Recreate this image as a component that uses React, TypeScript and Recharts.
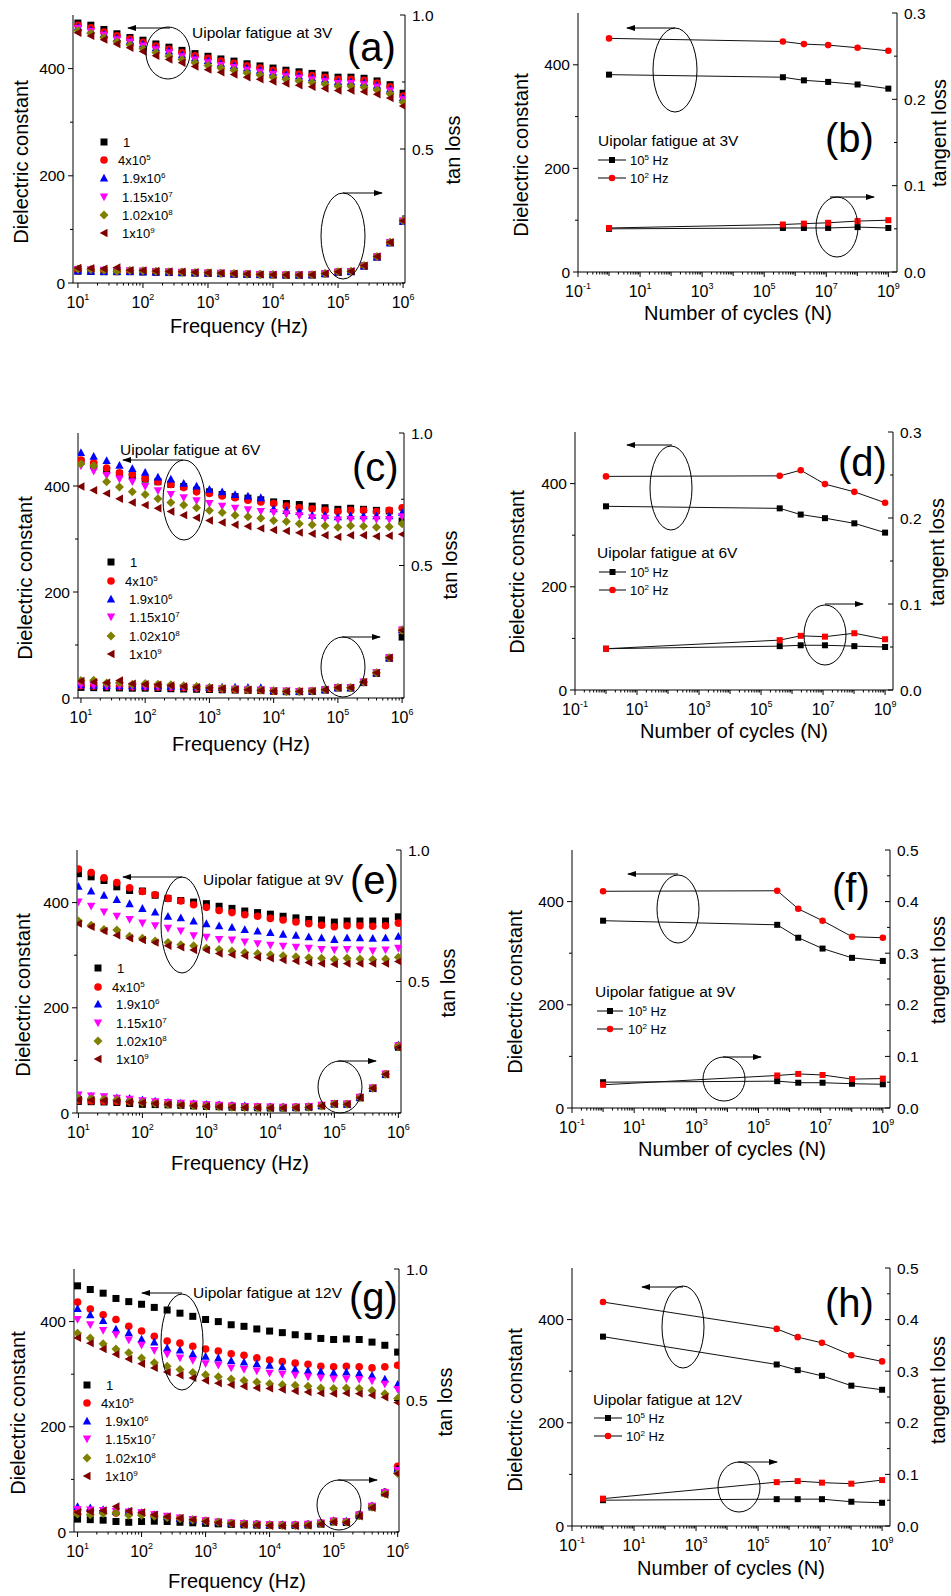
import React from 'react';
import { ScatterChart, Scatter, XAxis, YAxis } from 'recharts';

const FONT = '"Liberation Sans", Arial, Helvetica, sans-serif';

// frequency sweep, 5 points per decade
const freqHz = [10, 15.8, 25.1, 39.8, 63.1, 100, 158, 251, 398, 631, 1000, 1580, 2510, 3980, 6310,
  1e4, 1.58e4, 2.51e4, 3.98e4, 6.31e4, 1e5, 1.58e5, 2.51e5, 3.98e5, 6.31e5, 1e6];
// fatigue cycles
const cycleCounts = [1, 4e5, 1.9e6, 1.15e7, 1.02e8, 1e9];

const seriesNames = [['1', ''], ['4x10', '5'], ['1.9x10', '6'], ['1.15x10', '7'], ['1.02x10', '8'], ['1x10', '9']];
const seriesColors = ['#000000', '#ff0000', '#0000ff', '#ff00ff', '#808000', '#800000'];
const seriesShapes = ['square', 'circle', 'up', 'down', 'diamond', 'left'];

// (a) 3V dielectric constant / tan loss, one row per fatigue state
const epsA = [
  [485, 481, 473, 465, 458, 453, 446, 440, 434, 428, 423, 418, 414, 409, 405, 401, 397, 394, 391, 388, 384, 384, 382, 377, 370, 354],
  [481, 476, 468, 461, 455, 449, 442, 436, 430, 424, 419, 414, 410, 405, 401, 397, 393, 390, 387, 384, 380, 380, 378, 373, 366, 349],
  [478, 472, 465, 457, 452, 446, 439, 433, 426, 420, 415, 410, 406, 401, 397, 393, 389, 386, 383, 380, 376, 376, 374, 369, 362, 346],
  [475, 469, 462, 454, 449, 442, 435, 429, 422, 416, 411, 406, 402, 397, 393, 389, 385, 382, 379, 376, 372, 372, 370, 365, 358, 342],
  [471, 466, 458, 450, 444, 437, 430, 423, 417, 411, 406, 401, 397, 392, 388, 384, 380, 377, 374, 371, 367, 367, 365, 360, 353, 337],
  [467, 461, 454, 446, 439, 432, 424, 417, 411, 404, 398, 393, 389, 384, 380, 376, 372, 369, 366, 363, 359, 359, 357, 352, 345, 330],
];
const tanA = [
  [0.044, 0.043, 0.042, 0.042, 0.042, 0.041, 0.040, 0.039, 0.038, 0.037, 0.036, 0.035, 0.033, 0.032, 0.031, 0.030, 0.029, 0.029, 0.030, 0.034, 0.040, 0.042, 0.063, 0.097, 0.150, 0.230],
  [0.048, 0.047, 0.046, 0.045, 0.044, 0.043, 0.042, 0.041, 0.040, 0.038, 0.037, 0.036, 0.034, 0.033, 0.032, 0.031, 0.030, 0.030, 0.031, 0.035, 0.041, 0.043, 0.064, 0.098, 0.151, 0.231],
  [0.046, 0.044, 0.043, 0.043, 0.043, 0.042, 0.041, 0.040, 0.039, 0.038, 0.037, 0.036, 0.034, 0.033, 0.032, 0.032, 0.031, 0.030, 0.031, 0.035, 0.041, 0.043, 0.063, 0.097, 0.150, 0.230],
  [0.050, 0.049, 0.048, 0.047, 0.046, 0.045, 0.043, 0.042, 0.040, 0.039, 0.037, 0.036, 0.034, 0.033, 0.032, 0.031, 0.030, 0.030, 0.031, 0.035, 0.041, 0.043, 0.064, 0.098, 0.151, 0.231],
  [0.052, 0.050, 0.048, 0.044, 0.047, 0.046, 0.044, 0.042, 0.041, 0.039, 0.038, 0.036, 0.035, 0.033, 0.032, 0.031, 0.030, 0.030, 0.031, 0.035, 0.042, 0.044, 0.065, 0.099, 0.152, 0.232],
  [0.056, 0.055, 0.053, 0.058, 0.048, 0.047, 0.045, 0.043, 0.042, 0.040, 0.038, 0.037, 0.035, 0.034, 0.032, 0.031, 0.030, 0.030, 0.031, 0.035, 0.042, 0.044, 0.065, 0.099, 0.152, 0.232],
];

// (c) 6V
const epsC = [
  [447, 440, 429, 423, 419, 413, 408, 403, 399, 392, 389, 384, 380, 377, 374, 370, 367, 365, 362, 359, 356, 358, 356, 354, 353, 334],
  [449, 444, 434, 425, 422, 414, 408, 403, 397, 389, 386, 381, 378, 373, 370, 367, 362, 359, 357, 354, 352, 354, 354, 352, 354, 359],
  [463, 456, 448, 439, 433, 426, 417, 413, 405, 400, 394, 389, 384, 381, 378, 357, 354, 352, 345, 345, 342, 344, 344, 344, 344, 350],
  [438, 428, 420, 413, 408, 399, 391, 384, 378, 372, 367, 362, 358, 355, 352, 350, 347, 344, 340, 339, 336, 337, 337, 337, 337, 342],
  [442, 438, 408, 398, 389, 384, 376, 369, 364, 359, 354, 350, 345, 342, 339, 335, 333, 329, 327, 325, 322, 325, 324, 322, 323, 329],
  [399, 392, 386, 376, 369, 364, 358, 352, 345, 340, 335, 331, 327, 324, 320, 317, 315, 312, 310, 307, 304, 307, 307, 305, 306, 309],
];
const tanC = [
  [0.040, 0.039, 0.038, 0.038, 0.037, 0.037, 0.036, 0.035, 0.034, 0.033, 0.032, 0.031, 0.030, 0.029, 0.028, 0.025, 0.024, 0.024, 0.025, 0.030, 0.038, 0.038, 0.058, 0.093, 0.150, 0.230],
  [0.046, 0.045, 0.044, 0.043, 0.042, 0.042, 0.041, 0.040, 0.039, 0.038, 0.036, 0.034, 0.032, 0.030, 0.029, 0.026, 0.025, 0.025, 0.026, 0.031, 0.039, 0.039, 0.060, 0.095, 0.152, 0.256],
  [0.050, 0.048, 0.047, 0.046, 0.046, 0.045, 0.045, 0.044, 0.043, 0.042, 0.041, 0.041, 0.041, 0.040, 0.039, 0.028, 0.026, 0.025, 0.026, 0.031, 0.039, 0.039, 0.060, 0.095, 0.152, 0.258],
  [0.048, 0.046, 0.045, 0.046, 0.044, 0.043, 0.042, 0.041, 0.040, 0.038, 0.037, 0.035, 0.033, 0.031, 0.030, 0.027, 0.026, 0.025, 0.026, 0.031, 0.039, 0.039, 0.060, 0.095, 0.152, 0.257],
  [0.066, 0.067, 0.057, 0.058, 0.052, 0.055, 0.052, 0.050, 0.046, 0.043, 0.040, 0.037, 0.034, 0.032, 0.030, 0.027, 0.025, 0.025, 0.026, 0.031, 0.039, 0.039, 0.060, 0.095, 0.152, 0.256],
  [0.064, 0.060, 0.058, 0.066, 0.054, 0.052, 0.050, 0.047, 0.044, 0.041, 0.038, 0.036, 0.033, 0.031, 0.029, 0.026, 0.025, 0.025, 0.026, 0.031, 0.039, 0.039, 0.060, 0.095, 0.152, 0.256],
];

// (e) 9V
const epsE = [
  [455, 449, 442, 430, 423, 422, 414, 408, 404, 401, 398, 393, 389, 384, 381, 378, 374, 371, 368, 367, 363, 365, 365, 365, 365, 373],
  [464, 457, 447, 438, 428, 421, 415, 408, 403, 396, 391, 385, 381, 377, 374, 370, 367, 363, 360, 357, 354, 356, 356, 355, 356, 361],
  [431, 422, 414, 406, 398, 389, 382, 374, 371, 365, 360, 356, 353, 349, 346, 343, 340, 338, 335, 333, 330, 333, 333, 332, 333, 336],
  [401, 393, 382, 374, 368, 361, 356, 351, 346, 337, 334, 330, 329, 325, 322, 319, 317, 315, 313, 311, 310, 311, 310, 308, 310, 313],
  [365, 357, 349, 348, 336, 332, 327, 324, 320, 318, 313, 311, 308, 305, 303, 301, 299, 297, 295, 294, 292, 294, 293, 292, 293, 296],
  [360, 354, 346, 338, 332, 329, 324, 318, 315, 310, 310, 303, 301, 299, 296, 294, 291, 289, 286, 284, 283, 284, 284, 284, 284, 288],
];
const tanE = [
  [0.044, 0.043, 0.042, 0.040, 0.036, 0.033, 0.032, 0.031, 0.029, 0.027, 0.025, 0.024, 0.022, 0.021, 0.020, 0.019, 0.019, 0.020, 0.022, 0.027, 0.034, 0.033, 0.058, 0.093, 0.146, 0.250],
  [0.048, 0.046, 0.045, 0.044, 0.043, 0.041, 0.039, 0.037, 0.035, 0.033, 0.031, 0.029, 0.027, 0.025, 0.024, 0.023, 0.022, 0.023, 0.025, 0.029, 0.035, 0.034, 0.060, 0.095, 0.148, 0.256],
  [0.066, 0.064, 0.060, 0.058, 0.056, 0.050, 0.045, 0.042, 0.038, 0.036, 0.033, 0.031, 0.029, 0.027, 0.025, 0.024, 0.023, 0.023, 0.025, 0.029, 0.035, 0.034, 0.060, 0.095, 0.148, 0.258],
  [0.068, 0.065, 0.062, 0.056, 0.052, 0.047, 0.043, 0.040, 0.037, 0.034, 0.031, 0.029, 0.027, 0.025, 0.024, 0.023, 0.022, 0.023, 0.025, 0.029, 0.035, 0.034, 0.060, 0.095, 0.148, 0.256],
  [0.056, 0.054, 0.052, 0.050, 0.044, 0.040, 0.036, 0.032, 0.030, 0.028, 0.026, 0.024, 0.022, 0.021, 0.020, 0.019, 0.019, 0.020, 0.022, 0.027, 0.034, 0.033, 0.058, 0.094, 0.147, 0.254],
  [0.050, 0.049, 0.048, 0.046, 0.042, 0.039, 0.036, 0.033, 0.030, 0.028, 0.026, 0.024, 0.022, 0.021, 0.020, 0.019, 0.019, 0.020, 0.022, 0.027, 0.034, 0.033, 0.058, 0.094, 0.147, 0.250],
];

// (g) 12V
const epsG = [
  [468, 461, 454, 444, 438, 433, 427, 422, 416, 410, 404, 400, 394, 391, 386, 382, 379, 375, 372, 368, 366, 367, 366, 361, 355, 342],
  [437, 424, 413, 404, 391, 382, 372, 363, 359, 353, 348, 344, 339, 336, 331, 327, 324, 321, 319, 315, 314, 315, 314, 312, 314, 317],
  [425, 413, 402, 386, 379, 367, 361, 350, 346, 339, 334, 331, 326, 323, 320, 317, 314, 310, 307, 305, 303, 304, 302, 298, 291, 281],
  [404, 394, 383, 375, 365, 355, 345, 338, 331, 326, 320, 317, 312, 309, 306, 302, 300, 298, 295, 293, 291, 291, 290, 287, 281, 271],
  [378, 369, 358, 348, 341, 331, 322, 315, 309, 303, 299, 295, 291, 288, 285, 282, 280, 279, 277, 274, 273, 274, 273, 269, 263, 254],
  [369, 359, 348, 338, 329, 320, 312, 304, 298, 293, 288, 283, 280, 277, 274, 273, 271, 268, 266, 264, 263, 264, 263, 260, 256, 246],
];
const tanG = [
  [0.049, 0.047, 0.045, 0.040, 0.037, 0.040, 0.041, 0.040, 0.037, 0.035, 0.033, 0.031, 0.029, 0.027, 0.026, 0.025, 0.025, 0.025, 0.026, 0.030, 0.038, 0.036, 0.062, 0.095, 0.148, 0.235],
  [0.084, 0.082, 0.078, 0.072, 0.074, 0.072, 0.064, 0.058, 0.052, 0.047, 0.044, 0.038, 0.034, 0.032, 0.030, 0.028, 0.027, 0.027, 0.029, 0.034, 0.042, 0.040, 0.066, 0.098, 0.152, 0.250],
  [0.097, 0.092, 0.085, 0.080, 0.078, 0.074, 0.066, 0.058, 0.052, 0.047, 0.043, 0.038, 0.034, 0.032, 0.030, 0.028, 0.028, 0.028, 0.030, 0.035, 0.044, 0.042, 0.066, 0.100, 0.152, 0.240],
  [0.086, 0.084, 0.082, 0.078, 0.076, 0.073, 0.066, 0.060, 0.053, 0.048, 0.043, 0.038, 0.034, 0.032, 0.029, 0.028, 0.027, 0.027, 0.029, 0.034, 0.042, 0.040, 0.065, 0.098, 0.150, 0.235],
  [0.068, 0.066, 0.070, 0.072, 0.064, 0.064, 0.060, 0.055, 0.050, 0.046, 0.041, 0.037, 0.033, 0.030, 0.028, 0.026, 0.025, 0.025, 0.027, 0.032, 0.040, 0.038, 0.062, 0.094, 0.145, 0.222],
  [0.075, 0.078, 0.082, 0.097, 0.080, 0.074, 0.066, 0.058, 0.052, 0.047, 0.040, 0.035, 0.031, 0.028, 0.026, 0.024, 0.023, 0.023, 0.025, 0.030, 0.038, 0.036, 0.060, 0.092, 0.142, 0.222],
];

// cycle plots: dielectric constant and tangent loss at 10^5 Hz and 10^2 Hz
const eps3V_1e5 = [381, 376, 370, 367, 362, 354];
const eps3V_1e2 = [451, 445, 440, 438, 433, 427];
const tan3V_1e5 = [0.050, 0.051, 0.051, 0.051, 0.052, 0.051];
const tan3V_1e2 = [0.051, 0.055, 0.056, 0.057, 0.059, 0.060];

const eps6V_1e5 = [356, 352, 340, 333, 323, 305];
const eps6V_1e2 = [414, 415, 426, 399, 384, 363];
const tan6V_1e5 = [0.048, 0.051, 0.052, 0.052, 0.051, 0.050];
const tan6V_1e2 = [0.048, 0.058, 0.063, 0.062, 0.066, 0.059];

const eps9V_1e5 = [363, 355, 330, 309, 291, 285];
const eps9V_1e2 = [420, 421, 386, 363, 332, 330];
const tan9V_1e5 = [0.050, 0.052, 0.049, 0.049, 0.047, 0.046];
const tan9V_1e2 = [0.045, 0.063, 0.066, 0.064, 0.056, 0.057];

const eps12V_1e5 = [367, 313, 302, 291, 272, 264];
const eps12V_1e2 = [434, 382, 366, 355, 331, 319];
const tan12V_1e5 = [0.050, 0.052, 0.052, 0.052, 0.047, 0.045];
const tan12V_1e2 = [0.053, 0.085, 0.087, 0.084, 0.082, 0.089];

// ticks
const freqMajor = [10, 100, 1000, 1e4, 1e5, 1e6];
const cycleLabelled = [0.1, 10, 1000, 1e5, 1e7, 1e9];
const cycleDecades = [0.1, 1, 10, 100, 1000, 1e4, 1e5, 1e6, 1e7, 1e8, 1e9];
const minorMult = [2, 3, 4, 5, 6, 7, 8, 9];
const epsTicks = [0, 100, 200, 300, 400];
const epsLabelled = [0, 200, 400];
const tanFreqTicks = [0, 0.25, 0.5, 0.75, 1];
const tanFreqLabelled = [0.5, 1];
const tanCycleTicks3 = [0, 0.05, 0.1, 0.15, 0.2, 0.25, 0.3];
const tanCycleTicks5 = [0, 0.05, 0.1, 0.15, 0.2, 0.25, 0.3, 0.35, 0.4, 0.45, 0.5];

const toPts = (xs: number[], ys: number[]) => xs.map((x, i) => ({ x, y: ys[i] }));

function withMinors(decades: number[], dom: number[]) {
  const out: number[] = [...decades];
  decades.forEach((d) => minorMult.forEach((m) => out.push(d * m)));
  return out.filter((v) => v >= dom[0] && v <= dom[1]);
}

function Mark({ cx, cy, kind, color, size }: any) {
  if (cx == null || cy == null) return null;
  const h = size / 2;
  if (kind === 'square') return <rect x={cx - h} y={cy - h} width={size} height={size} fill={color} />;
  if (kind === 'circle') return <circle cx={cx} cy={cy} r={h + 0.3} fill={color} />;
  if (kind === 'up') return <polygon points={`${cx},${cy - h - 0.8} ${cx + h + 0.7},${cy + h} ${cx - h - 0.7},${cy + h}`} fill={color} />;
  if (kind === 'down') return <polygon points={`${cx},${cy + h + 0.8} ${cx + h + 0.7},${cy - h} ${cx - h - 0.7},${cy - h}`} fill={color} />;
  if (kind === 'diamond') return <polygon points={`${cx},${cy - h - 1} ${cx + h + 1},${cy} ${cx},${cy + h + 1} ${cx - h - 1},${cy}`} fill={color} />;
  return <polygon points={`${cx - h - 0.8},${cy} ${cx + h},${cy - h - 0.7} ${cx + h},${cy + h + 0.7}`} fill={color} />;
}

const markShape = (kind: string, color: string, size: number) => (p: any) => (
  <Mark cx={p.cx} cy={p.cy} kind={kind} color={color} size={size} />
);

function XTick(props: any) {
  const { x, y, payload, labelled, side } = props;
  const v = payload.value;
  const lg = Math.log10(v);
  const isDecade = Math.abs(lg - Math.round(lg)) < 1e-9;
  const isLab = labelled.some((l: number) => Math.abs(l - v) / l < 1e-9);
  const len = isLab ? 5 : isDecade ? 4 : 2.5;
  return (
    <g>
      <line x1={x} y1={y} x2={x} y2={y + len} stroke="#000" strokeWidth={1} />
      {side === 'bottom' && isLab && (
        <text x={x} y={y + 25} textAnchor="middle" fontSize={16} fontFamily={FONT} fill="#000">
          10<tspan dy={-8} fontSize={9} fontFamily={FONT}>{Math.round(lg)}</tspan>
        </text>
      )}
    </g>
  );
}

function YLeftTick(props: any) {
  const { x, y, payload, labelled } = props;
  const v = payload.value;
  const lab = labelled.includes(v);
  return (
    <g>
      <line x1={x} y1={y} x2={x - (lab ? 5 : 3)} y2={y} stroke="#000" strokeWidth={1} />
      {lab && (
        <text x={x - 8} y={y + 5.5} textAnchor="end" fontSize={15.5} fontFamily={FONT} fill="#000">{v}</text>
      )}
    </g>
  );
}

function YRightTick(props: any) {
  const { x, y, payload, labelled } = props;
  const v = payload.value;
  const lab = labelled.some((l: number) => Math.abs(l - v) < 1e-9);
  return (
    <g>
      <line x1={x} y1={y} x2={x - (lab ? 5 : 3)} y2={y} stroke="#000" strokeWidth={1} />
      {lab && (
        <text x={x + 7} y={y + 5.5} textAnchor="start" fontSize={15.5} fontFamily={FONT} fill="#000">{v.toFixed(1)}</text>
      )}
    </g>
  );
}

const LM = 60, RM = 60, TM = 10, BM = 40;

function Axes({ xDomain, xTicks, xLabelled, tanMax, tanTicks, tanLabelled }: any) {
  return [
    <XAxis key="xb" xAxisId="b" dataKey="x" type="number" scale="log" domain={xDomain} allowDataOverflow
      ticks={xTicks} interval={0} tickSize={0} tickMargin={0} tickLine={false} height={BM}
      axisLine={{ stroke: '#000', strokeWidth: 1 }}
      tick={(t: any) => <XTick {...t} labelled={xLabelled} side="bottom" />} />,
    <XAxis key="xt" xAxisId="t" orientation="top" mirror dataKey="x" type="number" scale="log" domain={xDomain} allowDataOverflow
      ticks={xTicks} interval={0} tickSize={0} tickMargin={0} tickLine={false} height={0}
      axisLine={{ stroke: '#000', strokeWidth: 1 }}
      tick={(t: any) => <XTick {...t} labelled={xLabelled} side="top" />} />,
    <YAxis key="yl" yAxisId="l" dataKey="y" type="number" domain={[0, 500]} allowDataOverflow
      ticks={epsTicks} interval={0} tickSize={0} tickMargin={0} tickLine={false} width={LM}
      axisLine={{ stroke: '#000', strokeWidth: 1 }}
      tick={(t: any) => <YLeftTick {...t} labelled={epsLabelled} />} />,
    <YAxis key="yr" yAxisId="r" orientation="right" dataKey="y" type="number" domain={[0, tanMax]} allowDataOverflow
      ticks={tanTicks} interval={0} tickSize={0} tickMargin={0} tickLine={false} width={RM}
      axisLine={{ stroke: '#000', strokeWidth: 1 }}
      tick={(t: any) => <YRightTick {...t} labelled={tanLabelled} />} />,
  ];
}

function FreqChart({ p }: any) {
  const ticks = withMinors(freqMajor, p.xDomain);
  return (
    <div style={{ position: 'absolute', left: p.plot.x - LM, top: p.plot.y - TM }}>
      <ScatterChart width={p.plot.w + LM + RM} height={p.plot.h + TM + BM} margin={{ top: TM, right: 0, bottom: 0, left: 0 }}>
        {Axes({ xDomain: p.xDomain, xTicks: ticks, xLabelled: freqMajor, tanMax: 1, tanTicks: tanFreqTicks, tanLabelled: tanFreqLabelled })}
        {p.tan.map((arr: number[], i: number) => (
          <Scatter key={'t' + i} xAxisId="b" yAxisId="r" data={toPts(freqHz, arr)} isAnimationActive={false}
            shape={markShape(seriesShapes[i], seriesColors[i], 7)} />
        ))}
        {p.eps.map((arr: number[], i: number) => (
          <Scatter key={'e' + i} xAxisId="b" yAxisId="l" data={toPts(freqHz, arr)} isAnimationActive={false}
            shape={markShape(seriesShapes[i], seriesColors[i], 7)} />
        ))}
      </ScatterChart>
    </div>
  );
}

function CycleChart({ p }: any) {
  const ticks = withMinors(cycleDecades, p.xDomain);
  const ln = { stroke: '#111', strokeWidth: 1 };
  const tanTicks = p.tanMax > 0.35 ? tanCycleTicks5 : tanCycleTicks3;
  const tanLab = tanTicks.filter((v: number) => Math.abs(v * 10 - Math.round(v * 10)) < 1e-9);
  return (
    <div style={{ position: 'absolute', left: p.plot.x - LM, top: p.plot.y - TM }}>
      <ScatterChart width={p.plot.w + LM + RM} height={p.plot.h + TM + BM} margin={{ top: TM, right: 0, bottom: 0, left: 0 }}>
        {Axes({ xDomain: p.xDomain, xTicks: ticks, xLabelled: cycleLabelled, tanMax: p.tanMax, tanTicks, tanLabelled: tanLab })}
        <Scatter xAxisId="b" yAxisId="r" data={toPts(cycleCounts, p.tan1e5)} line={ln} lineType="joint"
          isAnimationActive={false} shape={markShape('square', '#000000', 6)} />
        <Scatter xAxisId="b" yAxisId="r" data={toPts(cycleCounts, p.tan1e2)} line={ln} lineType="joint"
          isAnimationActive={false} shape={markShape('square', '#ff0000', 6)} />
        <Scatter xAxisId="b" yAxisId="l" data={toPts(cycleCounts, p.eps1e5)} line={ln} lineType="joint"
          isAnimationActive={false} shape={markShape('square', '#000000', 6)} />
        <Scatter xAxisId="b" yAxisId="l" data={toPts(cycleCounts, p.eps1e2)} line={ln} lineType="joint"
          isAnimationActive={false} shape={markShape('circle', '#ff0000', 6)} />
      </ScatterChart>
    </div>
  );
}

const freqPanels = [
  { id: 'a', plot: { x: 73, y: 15, w: 332, h: 268 }, xDomain: [8.4, 1.07e6], eps: epsA, tan: tanA,
    note: 'Uipolar fatigue at 3V', noteXY: [192, 38], labelXY: [347, 61], yTitle: [28, 162], xTitle: [239, 333], rTitle: [460, 150],
    legend: { mx: 104, tx: 123, rows: [142, 160, 178, 197, 215, 233] },
    ellipses: [[168, 53, 22, 26], [343, 236, 22, 43]], arrows: [[170, 28, 128, 28], [343, 193, 382, 193]] },
  { id: 'c', plot: { x: 78, y: 433, w: 326, h: 265 }, xDomain: [9, 1.07e6], eps: epsC, tan: tanC,
    note: 'Uipolar fatigue at 6V', noteXY: [120, 455], labelXY: [352, 481], yTitle: [32, 578], xTitle: [241, 751], rTitle: [457, 565],
    legend: { mx: 111, tx: 130, rows: [562, 581, 599, 617, 636, 654] },
    ellipses: [[184, 500, 21, 40], [343, 667, 22, 30]], arrows: [[183, 460, 123, 460], [342, 637, 380, 637]] },
  { id: 'e', plot: { x: 77, y: 850, w: 324, h: 263 }, xDomain: [9.5, 1.1e6], eps: epsE, tan: tanE,
    note: 'Uipolar fatigue at 9V', noteXY: [203, 885], labelXY: [350, 894], yTitle: [30, 995], xTitle: [240, 1170], rTitle: [455, 983],
    legend: { mx: 98, tx: 117, rows: [968, 987, 1004, 1023, 1041, 1059] },
    ellipses: [[182, 925, 21, 48], [340, 1087, 22, 26]], arrows: [[182, 877, 123, 877], [338, 1061, 376, 1061]] },
  { id: 'g', plot: { x: 74, y: 1269, w: 325, h: 263 }, xDomain: [8.8, 1.05e6], eps: epsG, tan: tanG,
    note: 'Uipolar fatigue at 12V', noteXY: [193, 1298], labelXY: [349, 1311], yTitle: [25, 1413], xTitle: [237, 1588], rTitle: [452, 1402],
    legend: { mx: 87, tx: 106, rows: [1385, 1403, 1421, 1439, 1458, 1476] },
    ellipses: [[182, 1342, 21, 48], [339, 1505, 22, 25]], arrows: [[182, 1293, 142, 1293], [338, 1480, 377, 1480]] },
];

const cyclePanels = [
  { id: 'b', plot: { x: 578, y: 13, w: 319, h: 259 }, xDomain: [0.1, 1.9e9], tanMax: 0.3,
    eps1e5: eps3V_1e5, eps1e2: eps3V_1e2, tan1e5: tan3V_1e5, tan1e2: tan3V_1e2,
    note: 'Uipolar fatigue at 3V', noteXY: [598, 146], labelXY: [825, 152], yTitle: [528, 155], xTitle: [738, 320], rTitle: [946, 133],
    legend: { x0: 598, x1: 626, tx: 630, rows: [160, 178] },
    ellipses: [[675, 70, 22, 42], [837, 227, 21, 30]], arrows: [[675, 28, 627, 28], [830, 197, 874, 197]] },
  { id: 'd', plot: { x: 575, y: 432, w: 318, h: 258 }, xDomain: [0.1, 1.8e9], tanMax: 0.3,
    eps1e5: eps6V_1e5, eps1e2: eps6V_1e2, tan1e5: tan6V_1e5, tan1e2: tan6V_1e2,
    note: 'Uipolar fatigue at 6V', noteXY: [597, 558], labelXY: [838, 476], yTitle: [524, 572], xTitle: [734, 738], rTitle: [944, 552],
    legend: { x0: 599, x1: 626, tx: 630, rows: [572, 590] },
    ellipses: [[671, 488, 21, 42], [825, 635, 21, 30]], arrows: [[672, 445, 627, 445], [825, 604, 863, 604]] },
  { id: 'f', plot: { x: 572, y: 850, w: 318, h: 258 }, xDomain: [0.1, 1.7e9], tanMax: 0.5,
    eps1e5: eps9V_1e5, eps1e2: eps9V_1e2, tan1e5: tan9V_1e5, tan1e2: tan9V_1e2,
    note: 'Uipolar fatigue at 9V', noteXY: [595, 997], labelXY: [832, 902], yTitle: [522, 992], xTitle: [732, 1156], rTitle: [945, 970],
    legend: { x0: 597, x1: 623, tx: 628, rows: [1011, 1029] },
    ellipses: [[678, 909, 21, 34], [724, 1079, 21, 22]], arrows: [[678, 874, 628, 874], [723, 1057, 761, 1057]] },
  { id: 'h', plot: { x: 572, y: 1268, w: 318, h: 258 }, xDomain: [0.1, 1.8e9], tanMax: 0.5,
    eps1e5: eps12V_1e5, eps1e2: eps12V_1e2, tan1e5: tan12V_1e5, tan1e2: tan12V_1e2,
    note: 'Uipolar fatigue at 12V', noteXY: [593, 1405], labelXY: [825, 1317], yTitle: [522, 1410], xTitle: [731, 1575], rTitle: [945, 1390],
    legend: { x0: 594, x1: 622, tx: 626, rows: [1418, 1436] },
    ellipses: [[683, 1327, 21, 41], [739, 1487, 21, 25]], arrows: [[683, 1287, 642, 1287], [738, 1462, 777, 1462]] },
];

const legendShift = [0, -5, -1, -1, -1, -1];

function Notes({ p, rTitle, xTitle }: any) {
  return (
    <g>
      <text x={p.yTitle[0]} y={p.yTitle[1]} transform={`rotate(-90 ${p.yTitle[0]} ${p.yTitle[1]})`} textAnchor="middle" fontSize={20} fontFamily={FONT}>Dielectric constant</text>
      <text x={p.rTitle[0]} y={p.rTitle[1]} transform={`rotate(-90 ${p.rTitle[0]} ${p.rTitle[1]})`} textAnchor="middle" fontSize={20} fontFamily={FONT}>{rTitle}</text>
      <text x={p.xTitle[0]} y={p.xTitle[1]} textAnchor="middle" fontSize={20} fontFamily={FONT}>{xTitle}</text>
      <text x={p.noteXY[0]} y={p.noteXY[1]} fontSize={15.5} fontFamily={FONT}>{p.note}</text>
      <text x={p.labelXY[0]} y={p.labelXY[1]} fontSize={40} fontFamily={FONT}>{'(' + p.id + ')'}</text>
      {p.ellipses.map((e: number[], i: number) => (
        <ellipse key={'el' + i} cx={e[0]} cy={e[1]} rx={e[2]} ry={e[3]} fill="none" stroke="#000" strokeWidth={1} />
      ))}
      {p.arrows.map((a: number[], i: number) => (
        <line key={'ar' + i} x1={a[0]} y1={a[1]} x2={a[2]} y2={a[3]} stroke="#000" strokeWidth={1} markerEnd="url(#ah)" />
      ))}
    </g>
  );
}

function Overlay() {
  return (
    <svg width={951} height={1596} style={{ position: 'absolute', left: 0, top: 0, pointerEvents: 'none' }}
      fontFamily={FONT} fill="#000">
      <defs>
        <marker id="ah" markerUnits="userSpaceOnUse" markerWidth={9} markerHeight={6} refX={8} refY={3} orient="auto">
          <path d="M0,0 L9,3 L0,6 z" fill="#000" />
        </marker>
      </defs>
      {freqPanels.map((p) => (
        <g key={p.id}>
          <Notes p={p} rTitle="tan loss" xTitle="Frequency (Hz)" />
          {p.legend.rows.map((ry, i) => (
            <g key={i}>
              <Mark cx={p.legend.mx} cy={ry} kind={seriesShapes[i]} color={seriesColors[i]} size={7} />
              <text x={p.legend.tx + legendShift[i]} y={ry + 4.5} fontSize={13} fontFamily={FONT}>
                {seriesNames[i][0]}
                {seriesNames[i][1] && <tspan dy={-5} fontSize={8}>{seriesNames[i][1]}</tspan>}
              </text>
            </g>
          ))}
        </g>
      ))}
      {cyclePanels.map((p) => (
        <g key={p.id}>
          <Notes p={p} rTitle="tangent loss" xTitle="Number of cycles (N)" />
          {[['5', 'square', '#000000'], ['2', 'circle', '#ff0000']].map((s, i) => {
            const ry = p.legend.rows[i];
            return (
              <g key={i}>
                <line x1={p.legend.x0} y1={ry} x2={p.legend.x1} y2={ry} stroke="#000" strokeWidth={1} />
                <Mark cx={(p.legend.x0 + p.legend.x1) / 2} cy={ry} kind={s[1]} color={s[2]} size={6} />
                <text x={p.legend.tx} y={ry + 4.5} fontSize={13} fontFamily={FONT}>
                  10<tspan dy={-5} fontSize={8}>{s[0]}</tspan><tspan dy={5}> Hz</tspan>
                </text>
              </g>
            );
          })}
        </g>
      ))}
    </svg>
  );
}

export default function App() {
  return (
    <div style={{ position: 'absolute', left: 0, top: 0, width: 951, height: 1596, background: '#fff', fontFamily: FONT }}>
      {freqPanels.map((p) => <FreqChart key={p.id} p={p} />)}
      {cyclePanels.map((p) => <CycleChart key={p.id} p={p} />)}
      <Overlay />
    </div>
  );
}
